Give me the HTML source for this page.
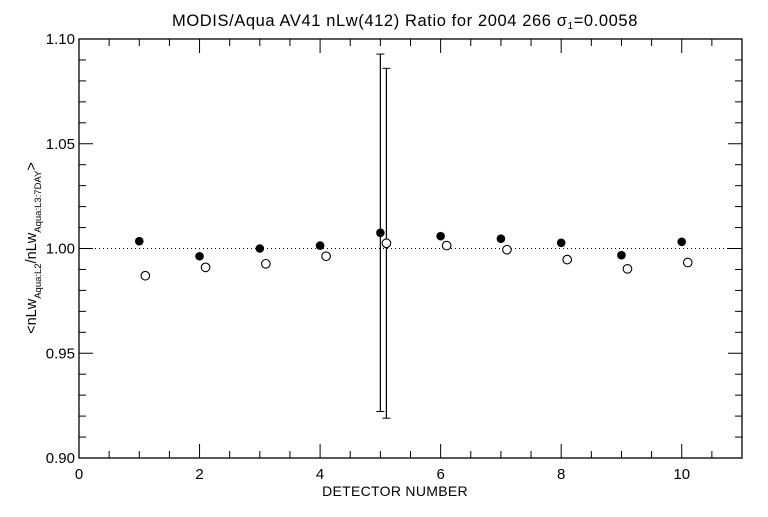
<!DOCTYPE html>
<html><head><meta charset="utf-8"><style>
body{margin:0;background:#fff;width:768px;height:512px;overflow:hidden}
svg text{font-family:"Liberation Sans",sans-serif;fill:#000}
</style></head><body>
<svg id="chart" width="768" height="512" xmlns="http://www.w3.org/2000/svg">
<text x="405" y="26" font-size="16.5" letter-spacing="0.6" text-anchor="middle">MODIS/Aqua AV41 nLw(412) Ratio for 2004 266 σ<tspan font-size="10" dy="3">1</tspan><tspan dy="-3">=0.0058</tspan></text>
<g id="axes"></g>
<g id="marks"></g>
<text x="395" y="496" font-size="14" letter-spacing="0.3" text-anchor="middle">DETECTOR NUMBER</text>
<text transform="translate(36,248) rotate(-90)" font-size="14.5" text-anchor="middle">&lt;nLw<tspan font-size="9.5" dy="5">Aqua:L2</tspan><tspan dy="-5">/nLw</tspan><tspan font-size="9.5" dy="5">Aqua:L3:7DAY</tspan><tspan dy="-5">&gt;</tspan></text>
</svg>
<script>
const detectors=[1,2,3,4,5,6,7,8,9,10];
const filledVals=[1.0035,0.9963,1.0000,1.0014,1.0075,1.0059,1.0047,1.0027,0.9968,1.0032];
const openVals=[0.987,0.991,0.9927,0.9963,1.0025,1.0014,0.9994,0.9947,0.9903,0.9933];
const filledErr=[0,0,0,0,0.0853,0,0,0,0,0];
const openErr=[0,0,0,0,0.0835,0,0,0,0,0];
const xTicks=[0,2,4,6,8,10];
const yTicks=[0.90,0.95,1.00,1.05,1.10];
const openOffset=0.1;
const L=79,R=742,T=39,B=458;
const X=v=>L+(v-0)/11*(R-L);
const Y=v=>B-(v-0.9)/0.2*(B-T);
const NS="http://www.w3.org/2000/svg";
function mk(tag,at,parent){const e=document.createElementNS(NS,tag);for(const k in at)e.setAttribute(k,at[k]);parent.appendChild(e);return e;}
const ax=document.getElementById('axes'),mg=document.getElementById('marks');
const frame=mk('rect',{x:L,y:T,width:R-L,height:B-T,fill:'none',stroke:'#000','stroke-width':1.3},ax);


for(let v=0;v<=11;v+=0.5){const big=Math.abs(v-Math.round(v/2)*2)<1e-9;const len=big?14:7;
 const t1=mk('line',{x1:X(v),x2:X(v),y1:B,y2:B-len,stroke:'#000'},ax);
 
 
 const t2=mk('line',{x1:X(v),x2:X(v),y1:T,y2:T+len,stroke:'#000'},ax);
 
 }
xTicks.forEach(v=>{const t=mk('text',{x:X(v),y:B+21,'font-size':15,'text-anchor':'middle'},ax);t.textContent=v;
 
 });
for(let i=0;i<=20;i++){const v=0.9+i*0.01;const big=i%5===0;const len=big?14:7;
 const t1=mk('line',{x1:L,x2:L+len,y1:Y(v),y2:Y(v),stroke:'#000'},ax);
 
 
 const t2=mk('line',{x1:R,x2:R-len,y1:Y(v),y2:Y(v),stroke:'#000'},ax);
 
 }
yTicks.forEach(v=>{const t=mk('text',{x:L-4,y:Y(v)+5,'font-size':15,'text-anchor':'end'},ax);t.textContent=v.toFixed(2);
 
 });
const ref=mk('line',{x1:L,x2:R,y1:Y(1),y2:Y(1),stroke:'#000','stroke-dasharray':'1,3'},ax);


function errbar(x,c,e){const g=mk('g',{},mg);
 
 
 mk('line',{x1:x,x2:x,y1:Y(c-e),y2:Y(c+e),stroke:'#000','stroke-width':1.2},g);
 mk('line',{x1:x-4,x2:x+4,y1:Y(c-e),y2:Y(c-e),stroke:'#000'},g);
 mk('line',{x1:x-4,x2:x+4,y1:Y(c+e),y2:Y(c+e),stroke:'#000'},g);}
detectors.forEach((d,i)=>{
 if(filledErr[i]>0)errbar(X(d),filledVals[i],filledErr[i]);
 if(openErr[i]>0)errbar(X(d+openOffset),openVals[i],openErr[i]);
 const f=mk('circle',{cx:X(d),cy:Y(filledVals[i]),r:4.3,fill:'#000'},mg);
 
 
 const o=mk('circle',{cx:X(d+openOffset),cy:Y(openVals[i]),r:4.3,fill:'#fff',stroke:'#000','stroke-width':1.1},mg);
 
 
});
</script>
</body></html>
